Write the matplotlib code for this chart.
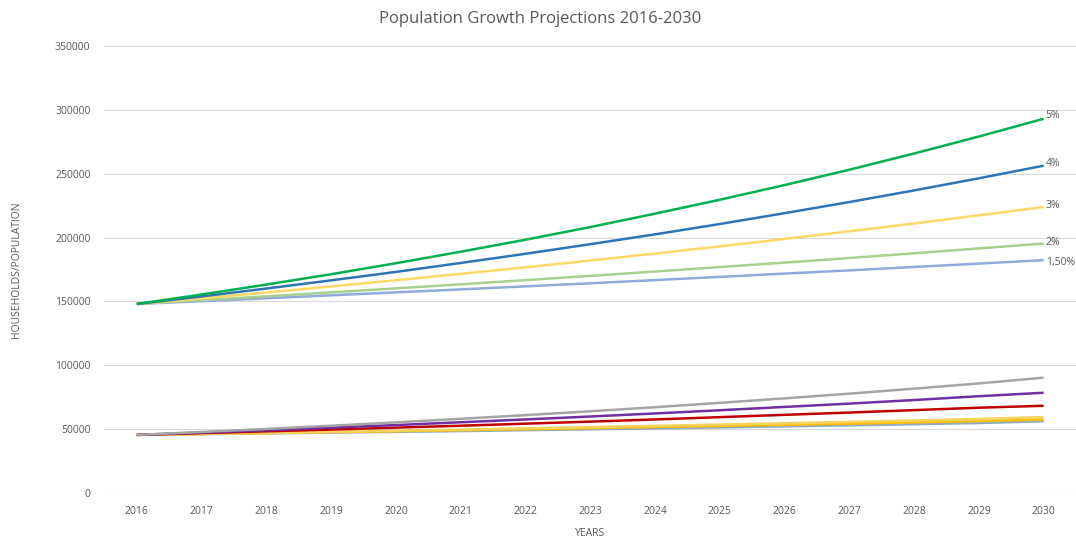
import numpy as np
import matplotlib.pyplot as plt

plt.rcParams['font.family'] = ['Open Sans', 'DejaVu Sans']

years = list(range(2016, 2031))

# households / population projections (upper group)
pop_5 = [148000, 155400, 163200, 171300, 179900, 188900, 198300, 208200, 218700, 229600, 241100, 253100, 265800, 279100, 293000]
pop_4 = [148000, 153900, 160100, 166500, 173100, 180100, 187300, 194800, 202500, 210600, 219100, 227800, 236900, 246400, 256300]
pop_3 = [148000, 152400, 157000, 161700, 166600, 171600, 176700, 182000, 187500, 193100, 198900, 204900, 211000, 217400, 223900]
pop_2 = [148000, 151000, 154000, 157100, 160200, 163400, 166700, 170000, 173400, 176900, 180400, 184000, 187700, 191500, 195300]
pop_15 = [148000, 150200, 152500, 154800, 157100, 159400, 161800, 164200, 166700, 169200, 171800, 174300, 177000, 179600, 182300]

# lower group
hh_gray = [45500, 47800, 50200, 52700, 55300, 58100, 61000, 64000, 67200, 70600, 74100, 77800, 81700, 85800, 90300]
hh_purple = [45500, 47300, 49200, 51200, 53200, 55400, 57600, 59900, 62300, 64800, 67400, 70000, 72800, 75800, 78500]
hh_red = [45500, 46900, 48300, 49700, 51200, 52700, 54300, 55900, 57600, 59400, 61200, 63000, 64900, 66800, 68300]
hh_yellow = [45500, 46300, 47100, 47900, 48800, 49700, 50600, 51600, 52600, 53600, 54600, 55700, 56800, 58000, 59500]
hh_orange = [45500, 46200, 46900, 47700, 48400, 49200, 50000, 50800, 51700, 52500, 53400, 54300, 55300, 56300, 57500]
hh_steel = [45500, 46100, 46700, 47300, 47900, 48500, 49200, 49900, 50600, 51400, 52200, 53000, 53900, 54800, 56200]

end_labels = ['5%', '4%', '3%', '2%', '1,50%']

fig = plt.figure(figsize=(10.76, 5.39), dpi=100)
ax = fig.add_axes([0.097, 0.0853, 0.903, 0.8294])

lower = [(hh_steel, '#8ea9c1'), (hh_orange, '#ffc000'), (hh_yellow, '#f4d35e'),
         (hh_red, '#c00000'), (hh_purple, '#7030a0'), (hh_gray, '#a5a5a5')]
for vals, c in lower:
    ax.plot(years, vals, color=c, lw=1.8, solid_capstyle='butt')

upper = [(pop_15, '#8faadc'), (pop_2, '#a9d18e'), (pop_3, '#ffd966'),
         (pop_4, '#2e75b6'), (pop_5, '#00b050')]
for vals, c in upper:
    ax.plot(years, vals, color=c, lw=1.8, solid_capstyle='butt')

offsets = [2500, 1500, 1500, 1000, -1800]
for vals, lab, off in zip([pop_5, pop_4, pop_3, pop_2, pop_15], end_labels, offsets):
    ax.text(years[-1] + 0.03, vals[-1] + off, lab, fontsize=7.5, color='#595959',
            ha='left', va='center')

ax.set_xlim(2015.5, 2030.5)
ax.set_ylim(0, 350000)
ax.set_xticks(years)
ax.set_yticks(np.arange(0, 350001, 50000))
ax.yaxis.grid(True, color='#d9d9d9', lw=0.8)
ax.set_axisbelow(True)
for s in ax.spines.values():
    s.set_visible(False)
ax.tick_params(axis='both', length=0, labelsize=7.5, colors='#595959')
ax.tick_params(axis='y', pad=10)
ax.tick_params(axis='x', pad=9)

ax.set_xlabel('YEARS', fontsize=7.5, color='#595959', labelpad=8)
fig.text(0.015, 0.5, 'HOUSEHOLDS/POPULATION', rotation=90, fontsize=7.5,
         color='#595959', ha='center', va='center')
fig.text(0.502, 0.964, 'Population Growth Projections 2016-2030', fontsize=12,
         color='#595959', ha='center', va='center')

fig.savefig('out.png', dpi=100)
